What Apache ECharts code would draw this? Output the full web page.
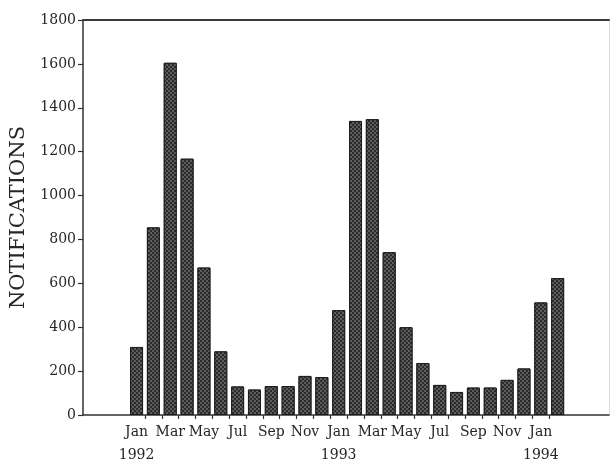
<!DOCTYPE html>
<html>
<head>
<meta charset="utf-8">
<script src="https://cdn.jsdelivr.net/npm/echarts@6/dist/echarts.min.js"></script>
<style>
  html, body { margin: 0; padding: 0; background: #fff; }
  #chart { width: 610px; height: 461px; }
</style>
</head>
<body>
<div id="chart"></div>
<script>
// monthly notifications, Jan 1992 - Feb 1994
const months = ['Jan', 'Feb', 'Mar', 'Apr', 'May', 'Jun', 'Jul', 'Aug', 'Sep', 'Oct', 'Nov', 'Dec',
  'Jan', 'Feb', 'Mar', 'Apr', 'May', 'Jun', 'Jul', 'Aug', 'Sep', 'Oct', 'Nov', 'Dec',
  'Jan', 'Feb'];
const notifications = [310, 855, 1605, 1168, 672, 290, 130, 116, 132, 132, 178, 173,
  478, 1340, 1348, 742, 400, 237, 137, 105, 125, 125, 160, 212, 513, 624];
const yearLabels = { 0: '1992', 12: '1993', 24: '1994' };
const labelIdx = [0, 2, 4, 6, 8, 10, 12, 14, 16, 18, 20, 22, 24];
const yTicks = [0, 200, 400, 600, 800, 1000, 1200, 1400, 1600, 1800];

var textColor = '#262626';
var font = 'DejaVu Serif';

var chart = echarts.init(document.getElementById('chart'));

var option = {
  backgroundColor: '#fff',
  animation: false,
  grid: {
    left: 83,
    right: 1,
    top: 20,
    bottom: 46,
    containLabel: false,
    outerBoundsMode: 'none'
  },
  xAxis: [
    {
      type: 'value',
      min: -3.18,
      max: 28.05,
      splitLine: { show: false },
      axisLine: { show: true, onZero: false, lineStyle: { color: '#333', width: 1.5 } },
      axisTick: {
        show: true,
        inside: false,
        length: 4,
        lineStyle: { color: '#333', width: 1.2 },
        customValues: months.slice(1).map(function (m, i) { return i + 0.5; })
      },
      axisLabel: {
        color: textColor,
        fontFamily: font,
        fontSize: 14,
        margin: 6,
        lineHeight: 23,
        customValues: labelIdx,
        formatter: function (v) {
          var i = Math.round(v);
          return months[i] + '\n' + (yearLabels[i] || '');
        }
      }
    },
    {
      // top frame line
      type: 'value',
      position: 'top',
      min: -3.18,
      max: 28.05,
      splitLine: { show: false },
      axisLine: { show: true, onZero: false, lineStyle: { color: '#3a3a3a', width: 2 } },
      axisTick: { show: false },
      axisLabel: { show: false }
    }
  ],
  yAxis: [
    {
      type: 'value',
      min: 0,
      max: 1800,
      interval: 200,
      name: 'NOTIFICATIONS',
      nameLocation: 'middle',
      nameGap: 52,
      nameTextStyle: { color: textColor, fontFamily: font, fontSize: 21 },
      splitLine: { show: false },
      axisLine: { show: true, onZero: false, lineStyle: { color: '#333', width: 1.5 } },
      axisTick: { show: true, inside: false, length: 5, lineStyle: { color: '#333', width: 1.2 } },
      axisLabel: {
        color: textColor,
        fontFamily: font,
        fontSize: 14,
        margin: 7,
        formatter: function (v) { return yTicks.indexOf(v) >= 0 ? String(v) : ''; }
      }
    },
    {
      // faint right frame line
      type: 'value',
      position: 'right',
      min: 0,
      max: 1800,
      splitLine: { show: false },
      axisLine: { show: true, onZero: false, lineStyle: { color: '#ddd', width: 1 } },
      axisTick: { show: false },
      axisLabel: { show: false }
    }
  ],
  series: [
    {
      name: 'Notifications',
      type: 'bar',
      barWidth: 13,
      data: notifications.map(function (v, i) { return [i, v]; }),
      itemStyle: {
        color: '#2b2b2b',
        borderColor: '#1e1e1e',
        borderWidth: 1,
        decal: {
          symbol: 'circle',
          symbolSize: 0.75,
          color: 'rgba(225,225,215,0.7)',
          dashArrayX: [[2, 2], [0, 2, 2, 0]],
          dashArrayY: [2, 0],
          rotation: 0
        }
      }
    }
  ]
};

chart.setOption(option);
</script>
</body>
</html>
